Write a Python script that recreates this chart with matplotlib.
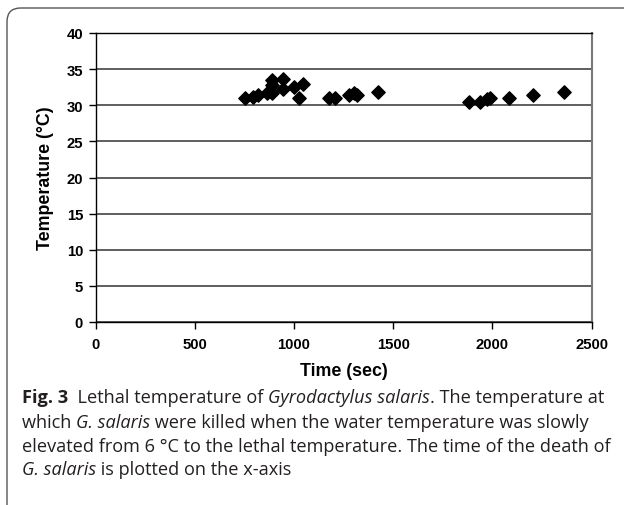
import matplotlib
matplotlib.use('Agg')
import matplotlib.pyplot as plt
from matplotlib.patches import FancyBboxPatch

# data: time of death (sec) and temperature (°C)
time_sec = [755, 794, 820, 863, 890, 890, 890, 945, 945, 998, 1024, 1047,
            1174, 1207, 1279, 1300, 1317, 1422,
            1884, 1940, 1971, 1989, 2085, 2207, 2360]
temp_c = [31.0, 31.2, 31.4, 31.75, 33.5, 32.8, 31.75, 33.6, 32.3, 32.5, 31.0, 32.95,
          31.0, 31.0, 31.4, 31.75, 31.4, 31.85,
          30.4, 30.4, 30.9, 31.0, 31.0, 31.4, 31.85]
x_ticks = [0, 500, 1000, 1500, 2000, 2500]
y_ticks = [0, 5, 10, 15, 20, 25, 30, 35, 40]

W, H = 624, 506
fig = plt.figure(figsize=(W / 100, H / 100), dpi=100)

# rounded frame round the figure
frame = FancyBboxPatch((7 / W, 1 - 520 / H), 650 / W, 511 / H,
                       boxstyle="round,pad=0,rounding_size=0.022",
                       transform=fig.transFigure, fill=False,
                       edgecolor='#555555', linewidth=1.0, mutation_aspect=W / H)
fig.patches.append(frame)

ax = fig.add_axes([95.6 / W, 1 - 323 / H, 496 / W, 289 / H])
ax.scatter(time_sec, temp_c, marker='D', s=46, color='black', zorder=3)
ax.set_xlim(0, 2500)
ax.set_ylim(0, 40)
ax.set_xticks(x_ticks)
ax.set_yticks(y_ticks)
ax.grid(axis='y', color='#333333', linewidth=1.1)
ax.set_axisbelow(True)
for s in ['left', 'bottom', 'top']:
    ax.spines[s].set_color('black')
    ax.spines[s].set_linewidth(1.0)
ax.spines['right'].set_color('#777777')
ax.spines['right'].set_linewidth(1.5)
ax.tick_params(direction='out', length=5, width=1, color='black')

tick_font = dict(family='Liberation Sans', weight='bold', size=10.7)
ax.set_xticklabels([str(t) for t in x_ticks], **tick_font)
ax.set_yticklabels([str(t) for t in y_ticks], **tick_font)
ax.tick_params(axis='y', pad=4)
ax.tick_params(axis='x', pad=6)

ax.set_xlabel('Time (sec)', family='Liberation Sans', weight='bold', size=12.8, va='center')
ax.set_ylabel('Temperature (°C)', family='Liberation Sans', weight='bold', size=12.8, va='center')
ax.xaxis.set_label_coords(0.5, (323 - 372) / 289)
ax.yaxis.set_label_coords((45 - 95.6) / 496, 0.5)

# caption, drawn run by run so bold / italic pieces sit side by side
cap_lines = [
    [("Fig. 3", 'bold', 'normal'), ("  Lethal temperature of ", 'normal', 'normal'),
     ("Gyrodactylus salaris", 'normal', 'italic'), (". The temperature at", 'normal', 'normal')],
    [("which ", 'normal', 'normal'), ("G. salaris", 'normal', 'italic'),
     (" were killed when the water temperature was slowly", 'normal', 'normal')],
    [("elevated from 6 °C to the lethal temperature. The time of the death of", 'normal', 'normal')],
    [("G. salaris", 'normal', 'italic'), (" is plotted on the x-axis", 'normal', 'normal')],
]
cap_y = [398, 423, 447, 470]

fig.canvas.draw()
renderer = fig.canvas.get_renderer()


def draw_runs(runs, yy, size):
    x = 22
    made = []
    for txt, wt, st in runs:
        t = fig.text(x / W, 1 - yy / H, txt, family='Open Sans', weight=wt, style=st,
                     size=size, va='center', ha='left', color='#231f20')
        x += t.get_window_extent(renderer).width
        made.append(t)
    return x, made


# fit the first line to the width it has in the reference
end, tmp = draw_runs(cap_lines[0], cap_y[0], 11)
for t in tmp:
    t.remove()
cap_size = 11 * (605 - 22) / (end - 22)

for runs, yy in zip(cap_lines, cap_y):
    draw_runs(runs, yy, cap_size)

fig.savefig('out.png', dpi=100)
